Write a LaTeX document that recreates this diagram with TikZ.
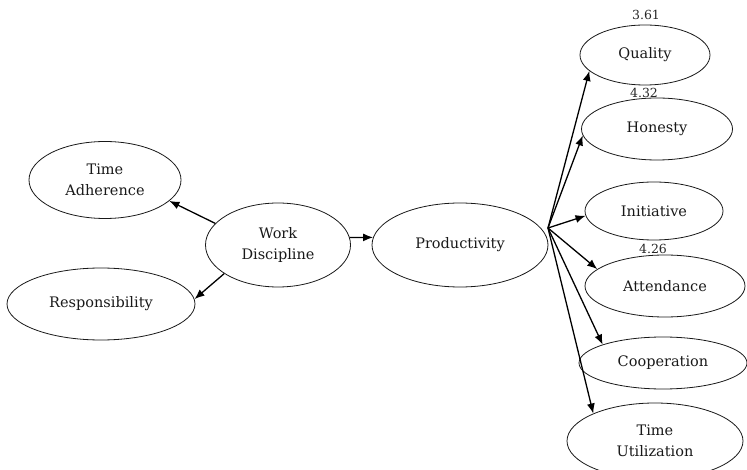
\documentclass[tikz,border=0pt]{standalone}
\usepackage{fontspec}
\setmainfont{DejaVu Serif}
\usetikzlibrary{shapes.geometric}
\usetikzlibrary{arrows.meta}
\tikzset{ovalnode/.style={ellipse, draw=black!90, line width=0.8pt, inner sep=0pt, align=center, text=black!90, font=\fontsize{14.5}{21}\selectfont}}
\tikzset{score/.style={inner sep=0pt, text=black!85, font=\fontsize{12.5}{13}\selectfont}}

\begin{document}
\begin{tikzpicture}[x=1pt, y=-1pt, >={Latex[length=10pt,width=8pt]}]
    \useasboundingbox (0,0) rectangle (747,470);

    % left side
    \node[ovalnode, minimum width=152pt, minimum height=77pt]   (adherence)      at (105,180)   {Time\\Adherence};
    \node[ovalnode, minimum width=145pt, minimum height=84pt]   (discipline)     at (278,245)   {Work\\Discipline};
    \node[ovalnode, minimum width=188pt, minimum height=72pt]   (responsibility) at (101,304)   {Responsibility};
    \node[ovalnode, minimum width=176pt, minimum height=84pt]   (productivity)   at (460,245)   {Productivity};

    % indicators of productivity
    \node[ovalnode, minimum width=130pt, minimum height=60pt]   (quality)        at (645,55)    {Quality};
    \node[ovalnode, minimum width=151pt, minimum height=62pt]   (honesty)        at (657,129)   {Honesty};
    \node[ovalnode, minimum width=138pt, minimum height=58pt]   (initiative)     at (654,211)   {Initiative};
    \node[ovalnode, minimum width=160pt, minimum height=62pt]   (attendance)     at (665,286)   {Attendance};
    \node[ovalnode, minimum width=168pt, minimum height=52pt]   (cooperation)    at (663,363)   {Cooperation};
    \node[ovalnode, minimum width=176pt, minimum height=76pt]   (utilization)    at (655,441)   {Time\\Utilization};

    \node[score] (quality-score)    at (646,15)  {3.61};
    \node[score] (honesty-score)    at (644,93)  {4.32};
    \node[score] (attendance-score) at (653,249) {4.26};

    \coordinate (hub) at (548,228);

    \draw[->, line width=1.3pt] (discipline.161) -- (adherence.-18);
    \draw[->, line width=1.3pt] (discipline.208) -- (responsibility.3);
    \draw[->, line width=1.3pt] (discipline.6) -- (productivity.175);

    \draw[->, line width=1.3pt] (hub) -- (quality.196);
    \draw[->, line width=1.3pt] (hub) -- (honesty.185);
    \draw[->, line width=1.3pt] (hub) -- (initiative.184);
    \draw[->, line width=1.3pt] (hub) -- (attendance.166);
    \draw[->, line width=1.3pt] (hub) -- (cooperation.163);
    \draw[->, line width=1.3pt] (hub) -- (utilization.156);
\end{tikzpicture}
\end{document}
